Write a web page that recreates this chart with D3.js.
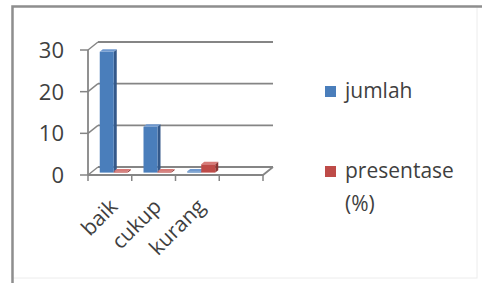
<!DOCTYPE html>
<html>
<head>
<meta charset="utf-8">
<script src="https://cdn.jsdelivr.net/npm/d3@7"></script>
<style>
  html, body { margin: 0; padding: 0; background: #fff; }
  svg { display: block; }
  text { font-family: "Open Sans", Lato, sans-serif; fill: #3f3f3f; }
</style>
</head>
<body>
<div id="chart"></div>
<script>
// chart data
const categories = ['baik', 'cukup', 'kurang', ''];
const seriesNames = ['jumlah', 'presentase (%)'];
const jumlah = [29, 11, 0.3, null];
const presentase = [0.3, 0.3, 2, null];
const yTicks = [0, 10, 20, 30];

const width = 482, height = 283;
const svg = d3.select('#chart').append('svg')
    .attr('width', width)
    .attr('height', height);

// frame
svg.append('rect')
    .attr('x', 12).attr('y', 6)
    .attr('width', 465).attr('height', 272)
    .attr('fill', 'none')
    .attr('stroke', '#ececec');
svg.append('path')
    .attr('d', 'M12.5,283 V6.5 H482')
    .attr('fill', 'none')
    .attr('stroke', '#8e8e8e')
    .attr('stroke-width', 2.5);

// 3D layout
const x0 = 88, x1 = 263;
const DX = 10, DY = -8;      // depth offset of the back wall
const zFront = 0.3, zBack = 0.6;

const x = d3.scaleBand().domain(categories).range([x0, x1]);
const bw = x.bandwidth();
const xs = d3.scaleBand().domain(seriesNames).range([bw * 0.2, bw * 0.84]);
const y = d3.scaleLinear().domain([0, 30]).range([175, 50]);

const colors = {
    'jumlah': { front: '#4a7ebb', side: '#34598a', top: '#6f99cf' },
    'presentase (%)': { front: '#be4b48', side: '#8c3432', top: '#d77b78' }
};

const axisColor = '#858585';
const g = svg.append('g');

// back wall gridlines + side wall diagonals
yTicks.forEach(v => {
    g.append('line')
        .attr('x1', x0 + DX).attr('x2', x1 + DX)
        .attr('y1', y(v) + DY).attr('y2', y(v) + DY)
        .attr('stroke', axisColor).attr('stroke-width', 1.8);
    g.append('line')
        .attr('x1', x0).attr('x2', x0 + DX)
        .attr('y1', y(v)).attr('y2', y(v) + DY)
        .attr('stroke', axisColor).attr('stroke-width', 1.5);
    // tick mark on the value axis
    g.append('line')
        .attr('x1', x0 - 8).attr('x2', x0)
        .attr('y1', y(v)).attr('y2', y(v))
        .attr('stroke', axisColor).attr('stroke-width', 1.5);
});

// vertical axis
g.append('line')
    .attr('x1', x0).attr('x2', x0)
    .attr('y1', y(30)).attr('y2', y(0))
    .attr('stroke', axisColor).attr('stroke-width', 1.8);

// floor front edge + right edge
g.append('path')
    .attr('d', `M${x0},${y(0)} H${x1} L${x1 + DX},${y(0) + DY}`)
    .attr('fill', 'none')
    .attr('stroke', axisColor).attr('stroke-width', 1.8);

// category ticks under the floor
const bounds = categories.map(c => x(c)).concat([x1]);
g.selectAll('.xtick')
    .data(bounds)
    .enter().append('line')
    .attr('class', 'xtick')
    .attr('x1', d => d).attr('x2', d => d)
    .attr('y1', y(0)).attr('y2', y(0) + 6)
    .attr('stroke', axisColor).attr('stroke-width', 1.5);

// y labels
g.selectAll('.ylabel')
    .data(yTicks)
    .enter().append('text')
    .attr('class', 'ylabel')
    .attr('x', 64)
    .attr('y', d => y(d))
    .attr('dy', '0.36em')
    .attr('text-anchor', 'end')
    .style('font-size', '22px')
    .text(d => d);

// category labels
g.selectAll('.xlabel')
    .data(categories.filter(c => c))
    .enter().append('text')
    .attr('class', 'xlabel')
    .attr('text-anchor', 'end')
    .style('font-size', '21px')
    .attr('transform', d => `translate(${x(d) + bw / 2 + 9},${y(0) + 33}) rotate(-45)`)
    .text(d => d);

// bars
const bars = [];
categories.forEach((c, i) => {
    [[seriesNames[0], jumlah[i]], [seriesNames[1], presentase[i]]].forEach(([s, v]) => {
        if (v === null) return;
        bars.push({ cat: c, series: s, value: v });
    });
});

const barW = xs.bandwidth();
const ddx = DX * (zBack - zFront), ddy = DY * (zBack - zFront);

bars.forEach(b => {
    const left = x(b.cat) + xs(b.series) + DX * zFront;
    const right = left + barW;
    const top = y(b.value) + DY * zFront;
    const bottom = y(0) + DY * zFront;
    const col = colors[b.series];
    // side face
    g.append('path')
        .attr('d', `M${right},${top} L${right + ddx},${top + ddy} L${right + ddx},${bottom + ddy} L${right},${bottom} Z`)
        .attr('fill', col.side);
    // front face
    g.append('rect')
        .attr('x', left).attr('y', top)
        .attr('width', barW).attr('height', bottom - top)
        .attr('fill', col.front);
    // top face
    g.append('path')
        .attr('d', `M${left},${top} L${left + ddx},${top + ddy} L${right + ddx},${top + ddy} L${right},${top} Z`)
        .attr('fill', col.top);
});

// legend
const legend = svg.append('g');
const legendRows = [
    { name: seriesNames[0], lines: ['jumlah'], y: 86 },
    { name: seriesNames[1], lines: ['presentase', '(%)'], y: 166 }
];
legendRows.forEach(r => {
    legend.append('rect')
        .attr('x', 325).attr('y', r.y)
        .attr('width', 11).attr('height', 11)
        .attr('fill', colors[r.name].front);
    const t = legend.append('text')
        .attr('x', 345)
        .attr('y', r.y + 12)
        .style('font-size', '21px');
    r.lines.forEach((line, k) => {
        t.append('tspan')
            .attr('x', 345)
            .attr('dy', k === 0 ? 0 : 33)
            .text(line);
    });
});
</script>
</body>
</html>
